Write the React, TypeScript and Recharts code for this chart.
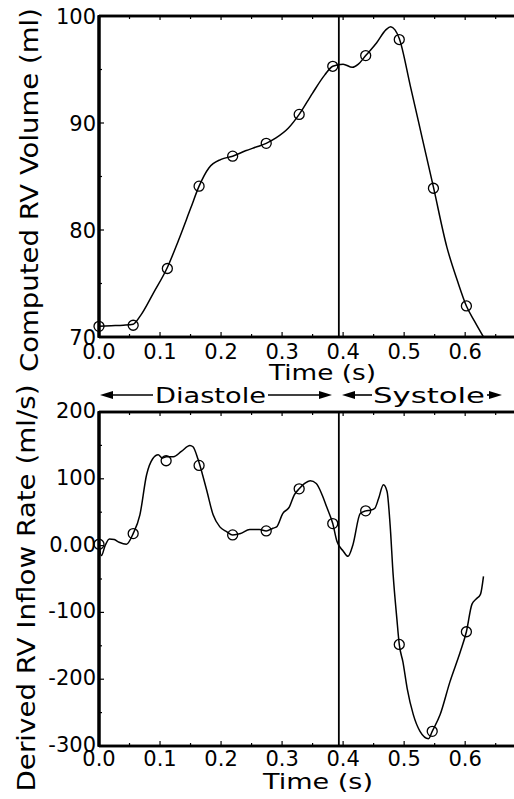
import { ComposedChart, Line, XAxis, YAxis, ReferenceLine } from 'recharts'

// time axis (s)
const xTicks = [0, 0.05, 0.1, 0.15, 0.2, 0.25, 0.3, 0.35, 0.4, 0.45, 0.5, 0.55, 0.6, 0.65]
const xTickLabels = ['0.0', '', '0.1', '', '0.2', '', '0.3', '', '0.4', '', '0.5', '', '0.6', '']
const xMax = 0.68
const valveTime = 0.393

// computed RV volume (ml)
const volTicks = [70, 75, 80, 85, 90, 95, 100]
const volTickLabels = ['70', '', '80', '', '90', '', '100']
const volTime = [
  0, 0.02, 0.04, 0.056, 0.068, 0.09, 0.112, 0.13, 0.15, 0.164, 0.18, 0.2, 0.219, 0.24, 0.26,
  0.274, 0.29, 0.31, 0.328, 0.35, 0.37, 0.383, 0.4, 0.415, 0.425, 0.437, 0.455, 0.47, 0.478,
  0.485, 0.492, 0.51, 0.53, 0.548, 0.57, 0.587, 0.602, 0.615, 0.63,
]
const volValue = [
  71.0, 71.05, 71.1, 71.2, 72.0, 74.2, 76.5, 79.0, 82.0, 84.1, 85.8, 86.6, 86.9, 87.4, 87.8,
  88.1, 88.6, 89.5, 90.8, 92.8, 94.5, 95.3, 95.5, 95.2, 95.5, 96.3, 97.5, 98.7, 99.0,
  98.7, 97.9, 93.5, 88.5, 84.0, 78.4, 75.3, 72.9, 71.5, 70.0,
]
const volMarkTime = [0, 0.056, 0.112, 0.164, 0.219, 0.274, 0.328, 0.383, 0.437, 0.492, 0.548, 0.602]
const volMarkValue = [71.0, 71.1, 76.4, 84.1, 86.9, 88.1, 90.8, 95.3, 96.3, 97.8, 83.9, 72.9]

// derived RV inflow rate (ml/s)
const flowTicks = [-300, -250, -200, -150, -100, -50, 0, 50, 100, 150, 200]
const flowTickLabels = ['-300', '', '-200', '', '-100', '', '0.00', '', '100', '', '200']
const flowTime = [
  0, 0.004, 0.01, 0.017, 0.025, 0.033, 0.045, 0.056, 0.067, 0.078, 0.088, 0.097, 0.104, 0.11,
  0.122, 0.135, 0.149, 0.154, 0.162, 0.17, 0.177, 0.187, 0.198, 0.209, 0.219, 0.232, 0.247,
  0.263, 0.274, 0.285, 0.291, 0.301, 0.312, 0.32, 0.328, 0.337, 0.346, 0.356, 0.366, 0.373,
  0.383, 0.39, 0.4, 0.408, 0.416, 0.428, 0.437, 0.445, 0.452, 0.458, 0.466, 0.472, 0.477,
  0.482, 0.488, 0.492, 0.498, 0.505, 0.515, 0.526, 0.54, 0.546, 0.559, 0.575, 0.592, 0.602,
  0.611, 0.618, 0.625, 0.63,
]
const flowValue = [
  2, -15, 0, 10, 9, 5, 2, 18, 46, 106, 130, 136, 131, 133,
  133, 141, 150, 148, 130, 105, 81, 46, 28, 21, 16, 18, 24,
  24, 22, 26, 28, 48, 58, 76, 85, 93, 97, 93, 75, 58,
  33, 6, -8, -16, 1, 48, 52, 53, 56, 70, 91, 81, 31,
  -44, -109, -148, -174, -214, -253, -278, -289, -278, -253, -204, -159, -129,
  -88, -80, -73, -46,
]
const flowMarkTime = [0, 0.056, 0.11, 0.164, 0.219, 0.274, 0.328, 0.383, 0.437, 0.492, 0.546, 0.602]
const flowMarkValue = [2, 18, 127, 120, 16, 22, 85, 33, 52, -148, -278, -129]

const FONT = '"DejaVu Sans", sans-serif'
// recharts places tick props tickSize + tickMargin away from the axis line
const TICK_OFFSET = 8

// page layout of the two plot frames
const PLOT_LEFT = 99
const PLOT_RIGHT = 514
const TOP_PANEL = { y0: 16, y1: 337 }
const BOTTOM_PANEL = { y0: 412, y1: 746 }

const toRows = (ts: number[], vs: number[]) => ts.map((t, i) => ({ t, v: vs[i] }))

const volCurve = toRows(volTime, volValue)
const volMarks = toRows(volMarkTime, volMarkValue)
const flowCurve = toRows(flowTime, flowValue)
const flowMarks = toRows(flowMarkTime, flowMarkValue)

function makeBottomTick(labelDy: number) {
  return function BottomTick(props: any) {
    const { x, y, index } = props
    const axisY = y - TICK_OFFSET
    const label = xTickLabels[index] ?? ''
    return (
      <g>
        <line x1={x} y1={axisY} x2={x} y2={axisY - (label ? 5 : 3)} stroke="#000" strokeWidth={1.2} />
        {label ? (
          <text x={x} y={axisY + labelDy} textAnchor="middle" fontSize={21} fontFamily={FONT} fill="#000">
            {label}
          </text>
        ) : null}
      </g>
    )
  }
}

function TopTick(props: any) {
  const { x, y, index } = props
  const axisY = y + TICK_OFFSET
  const major = xTickLabels[index] !== ''
  return <line x1={x} y1={axisY} x2={x} y2={axisY + (major ? 4 : 3)} stroke="#000" strokeWidth={1.2} />
}

function makeYTick(labels: string[], dy: number) {
  return function YTick(props: any) {
    const { x, y, index } = props
    const axisX = x + TICK_OFFSET
    const label = labels[index] ?? ''
    return (
      <g>
        <line x1={axisX} y1={y} x2={axisX + (label ? 5 : 3)} y2={y} stroke="#000" strokeWidth={1.2} />
        {label ? (
          <text x={axisX - 3} y={y + dy} textAnchor="end" fontSize={21} fontFamily={FONT} fill="#000">
            {label}
          </text>
        ) : null}
      </g>
    )
  }
}

const VolTick = makeYTick(volTickLabels, 8)
const FlowTick = makeYTick(flowTickLabels, 6)
const VolXTick = makeBottomTick(22)
const FlowXTick = makeBottomTick(20)

function Arrow({ from, to, y }: { from: number; to: number; y: number }) {
  const dir = to > from ? 1 : -1
  return (
    <g>
      <line x1={from} y1={y} x2={to - dir * 10} y2={y} stroke="#000" strokeWidth={1.6} />
      <polygon points={`${to},${y} ${to - dir * 13},${y - 4} ${to - dir * 13},${y + 4}`} fill="#000" />
    </g>
  )
}

function Frame({ y0, y1 }: { y0: number; y1: number }) {
  return (
    <g>
      <line x1={PLOT_LEFT} y1={y0} x2={PLOT_RIGHT} y2={y0} stroke="#000" strokeWidth={2.4} />
      <line x1={PLOT_LEFT} y1={y1} x2={PLOT_RIGHT} y2={y1} stroke="#000" strokeWidth={2.4} />
      <line x1={PLOT_LEFT} y1={y0 - 1} x2={PLOT_LEFT} y2={y1 + 1} stroke="#000" strokeWidth={3} />
    </g>
  )
}

function Panel({
  curve,
  marks,
  domain,
  ticks,
  tick,
  xTick,
  height,
  top,
  xAxisHeight,
}: {
  curve: { t: number; v: number }[]
  marks: { t: number; v: number }[]
  domain: [number, number]
  ticks: number[]
  tick: (p: any) => any
  xTick: (p: any) => any
  height: number
  top: number
  xAxisHeight: number
}) {
  return (
    <ComposedChart width={514} height={height} data={curve} margin={{ top, right: 0, bottom: 0, left: 0 }}>
      <XAxis
        xAxisId="b"
        type="number"
        dataKey="t"
        domain={[0, xMax]}
        ticks={xTicks}
        interval={0}
        height={xAxisHeight}
        tickLine={false}
        axisLine={{ stroke: '#000', strokeWidth: 2.4 }}
        tick={xTick}
      />
      <XAxis
        xAxisId="t"
        orientation="top"
        type="number"
        dataKey="t"
        domain={[0, xMax]}
        ticks={xTicks}
        interval={0}
        height={1}
        tickLine={false}
        axisLine={{ stroke: '#000', strokeWidth: 2.4 }}
        tick={TopTick}
      />
      <YAxis
        type="number"
        domain={domain}
        ticks={ticks}
        interval={0}
        width={PLOT_LEFT}
        tickLine={false}
        axisLine={{ stroke: '#000', strokeWidth: 3 }}
        tick={tick}
      />
      <ReferenceLine xAxisId="b" x={valveTime} stroke="#000" strokeWidth={1.8} />
      <Line
        xAxisId="b"
        type="monotone"
        dataKey="v"
        stroke="#000"
        strokeWidth={1.5}
        dot={false}
        activeDot={false}
        isAnimationActive={false}
      />
      <Line
        xAxisId="b"
        data={marks}
        type="linear"
        dataKey="v"
        stroke="none"
        dot={{ r: 5, fill: 'none', stroke: '#000', strokeWidth: 1.3 }}
        activeDot={false}
        isAnimationActive={false}
      />
    </ComposedChart>
  )
}

export default function App() {
  return (
    <div style={{ position: 'absolute', top: 0, left: 0, width: 514, height: 799, fontFamily: FONT }}>
      <div style={{ position: 'absolute', top: 0, left: 0 }}>
        <Panel curve={volCurve} marks={volMarks} domain={[70, 100]} ticks={volTicks} tick={VolTick} xTick={VolXTick} height={375} top={TOP_PANEL.y0 - 1} xAxisHeight={375 - TOP_PANEL.y1} />
      </div>
      <div style={{ position: 'absolute', top: 400, left: 0 }}>
        <Panel curve={flowCurve} marks={flowMarks} domain={[-300, 200]} ticks={flowTicks} tick={FlowTick} xTick={FlowXTick} height={399} top={BOTTOM_PANEL.y0 - 401} xAxisHeight={799 - BOTTOM_PANEL.y1} />
      </div>
      <svg width={514} height={799} style={{ position: 'absolute', top: 0, left: 0, pointerEvents: 'none' }}>
        <Frame y0={TOP_PANEL.y0} y1={TOP_PANEL.y1} />
        <Frame y0={BOTTOM_PANEL.y0} y1={BOTTOM_PANEL.y1} />
        <g fontFamily={FONT} fill="#000">
          <text x={38} y={190} transform="rotate(-90 38 190)" textAnchor="middle" fontSize={24} textLength={364} lengthAdjust="spacingAndGlyphs">
            Computed RV Volume (ml)
          </text>
          <text x={35} y={588} transform="rotate(-90 35 588)" textAnchor="middle" fontSize={24} textLength={407} lengthAdjust="spacingAndGlyphs">
            Derived RV Inflow Rate (ml/s)
          </text>
          <text x={269} y={380} fontSize={21} textLength={107} lengthAdjust="spacingAndGlyphs">
            Time (s)
          </text>
          <text x={263} y={789} fontSize={22} textLength={110} lengthAdjust="spacingAndGlyphs">
            Time (s)
          </text>
          <text x={155} y={403} fontSize={22} textLength={111} lengthAdjust="spacingAndGlyphs">
            Diastole
          </text>
          <text x={373} y={403} fontSize={22} textLength={112} lengthAdjust="spacingAndGlyphs">
            Systole
          </text>
        </g>
        <Arrow from={153} to={100} y={395} />
        <Arrow from={268} to={332} y={395} />
        <Arrow from={372} to={342} y={395} />
        <Arrow from={487} to={502} y={395} />
      </svg>
    </div>
  )
}
